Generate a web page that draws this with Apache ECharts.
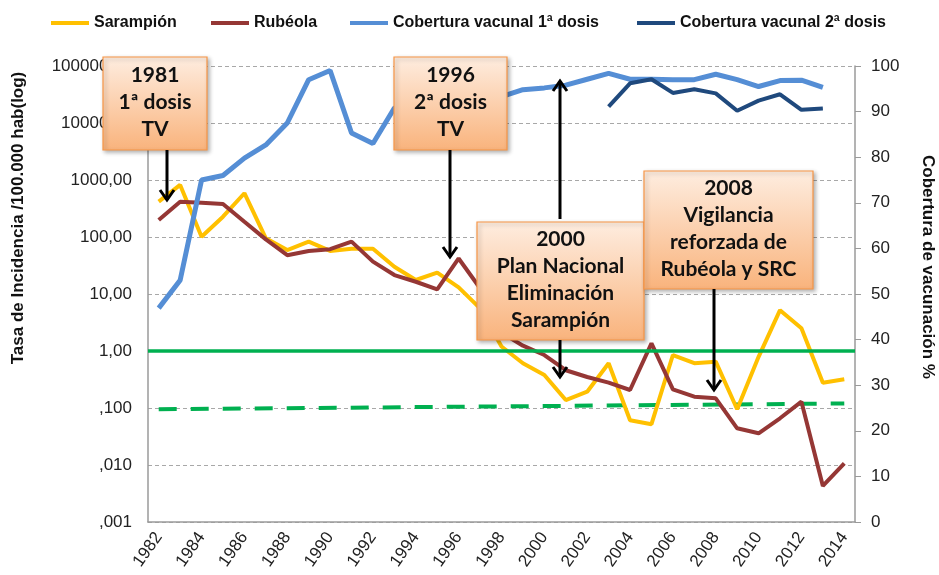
<!DOCTYPE html>
<html>
<head>
<meta charset="utf-8">
<script src="https://cdn.jsdelivr.net/npm/echarts@6/dist/echarts.min.js"></script>
<style>
html,body{margin:0;padding:0;background:#fff;}
#chart{width:939px;height:575px;}
</style>
</head>
<body>
<div id="chart"></div>
<script>
// datos
var years = ['1982','1983','1984','1985','1986','1987','1988','1989','1990','1991','1992','1993','1994','1995','1996','1997','1998','1999','2000','2001','2002','2003','2004','2005','2006','2007','2008','2009','2010','2011','2012','2013','2014'];

// tasa por 100.000 hab (eje log)
var sarampion = [417, 820, 101, 227, 586, 95, 59, 83, 57, 62, 62, 30, 17.6, 23.7, 13.1, 5.6, 1.2, 0.61, 0.38, 0.138, 0.193, 0.61, 0.061, 0.052, 0.85, 0.61, 0.65, 0.095, 0.79, 5.2, 2.5, 0.278, 0.32];
var rubeola = [199, 417, 400, 380, 185, 91, 48, 57, 61, 83, 37, 21.5, 16.4, 12.1, 42, 12.6, 2.1, 1.24, 0.85, 0.46, 0.35, 0.278, 0.207, 1.36, 0.213, 0.158, 0.148, 0.044, 0.036, 0.066, 0.129, 0.0043, 0.0107];

// cobertura % (eje derecho)
var cobertura1 = [46.9, 53, 75, 76, 79.8, 82.7, 87.5, 97, 99, 85.3, 83, 90.8, 91.5, 92, 92.5, 93, 93.3, 94.8, 95.2, 95.8, 97.1, 98.4, 97.1, 97.1, 97, 97, 98.2, 97, 95.5, 96.8, 96.9, 95.3, null];
var cobertura2 = [null, null, null, null, null, null, null, null, null, null, null, null, null, null, null, null, null, null, null, null, null, 91.1, 96.2, 97.1, 94.1, 94.9, 94.0, 90.2, 92.4, 93.8, 90.4, 90.7, null];

// lineas de referencia verdes
var objetivo = 1;
var objetivoSRC = [0.095, null, null, null, null, null, null, null, null, null, null, null, null, null, null, null, null, null, null, null, null, null, null, null, null, null, null, null, null, null, null, null, 0.12];

var leftTicks = [0.001, 100000];

var myChart = echarts.init(document.getElementById('chart'), null, {renderer: 'canvas'});

var axisFont = 'Liberation Sans';
var noteFont = 'bold 21px Lato';

function fmtLog(v){
	if (v >= 1) return Math.round(v) + ',00';
	return ',' + v.toFixed(3).split('.')[1];
}

function noteBox(x, y, w, h, lines){
	return [{
		type: 'rect', z: 100,
		shape: {x: x, y: y, width: w, height: h},
		style: {
			fill: {type: 'linear', x: 0, y: 0, x2: 0, y2: 1, colorStops: [
				{offset: 0, color: '#FEEDE0'}, {offset: 1, color: '#F9B37C'}]},
			stroke: '#F79646', lineWidth: 1.2,
			shadowBlur: 4, shadowOffsetX: 2, shadowOffsetY: 2, shadowColor: 'rgba(0,0,0,0.3)'
		}
	}, {
		type: 'text', z: 101,
		x: x + w / 2, y: y + h / 2 - 1,
		style: {text: lines.join('\n'), font: noteFont, fill: '#111', align: 'center', verticalAlign: 'middle', lineHeight: 27}
	}];
}

function arrow(x, y1, y2){
	var d = y2 > y1 ? -1 : 1;
	return [{
		type: 'line', z: 102,
		shape: {x1: x, y1: y1, x2: x, y2: y2},
		style: {stroke: '#000', lineWidth: 3}
	}, {
		type: 'polyline', z: 102,
		shape: {points: [[x - 7, y2 + d * 10], [x, y2], [x + 7, y2 + d * 10]]},
		style: {stroke: '#000', lineWidth: 3, fill: null}
	}];
}

var graphics = [].concat(
	noteBox(103, 57, 104, 93, ['1981', '1ª dosis', 'TV']),
	noteBox(394, 57, 113, 93, ['1996', '2ª dosis', 'TV']),
	noteBox(477, 222, 167, 118, ['2000', 'Plan Nacional', 'Eliminación', 'Sarampión']),
	noteBox(644, 171, 169, 118, ['2008', 'Vigilancia', 'reforzada de', 'Rubéola y SRC']),
	arrow(167, 150, 200),
	arrow(450, 150, 257),
	arrow(560, 219, 81),
	arrow(560, 340, 377),
	arrow(714, 289, 390),
	[{
		type: 'text', x: 18, y: 218, rotation: Math.PI / 2,
		style: {text: 'Tasa de Incidencia /100.000 hab(log)', font: 'bold 17px ' + axisFont, fill: '#111', align: 'center', verticalAlign: 'middle'}
	}, {
		type: 'text', x: 928, y: 267, rotation: -Math.PI / 2,
		style: {text: 'Cobertura de vacunación %', font: 'bold 17px ' + axisFont, fill: '#111', align: 'center', verticalAlign: 'middle'}
	}]
);

var legendCommon = {
	top: 10, icon: 'rect', itemWidth: 38, itemHeight: 4, selectedMode: false,
	textStyle: {fontFamily: axisFont, fontWeight: 'bold', fontSize: 16, color: '#111'}
};

var option = {
	animation: false,
	backgroundColor: '#fff',
	grid: {left: 148, right: 84, top: 66, bottom: 53, containLabel: false, outerBoundsMode: 'none'},
	legend: [
		Object.assign({left: 46, data: ['Sarampión']}, legendCommon),
		Object.assign({left: 206, data: ['Rubéola']}, legendCommon),
		Object.assign({left: 345, data: ['Cobertura vacunal 1ª dosis']}, legendCommon),
		Object.assign({left: 632, data: ['Cobertura vacunal 2ª dosis']}, legendCommon)
	],
	xAxis: {
		type: 'category', data: years, boundaryGap: true,
		axisLine: {lineStyle: {color: '#9a9a9a', width: 1.5}},
		axisTick: {show: false},
		axisLabel: {interval: 1, rotate: 55, margin: 12, fontFamily: axisFont, fontSize: 17, color: '#222'}
	},
	yAxis: [{
		type: 'log', logBase: 10, min: leftTicks[0], max: leftTicks[1], splitNumber: 8,
		axisLine: {show: true, lineStyle: {color: '#9a9a9a', width: 1.5}},
		axisTick: {show: false},
		axisLabel: {formatter: fmtLog, margin: 16, fontFamily: axisFont, fontSize: 17, color: '#222'},
		splitLine: {show: true, lineStyle: {color: '#a8a8a8', type: [4, 3], width: 1}}
	}, {
		type: 'value', min: 0, max: 100, interval: 10, position: 'right',
		axisLine: {show: true, lineStyle: {color: '#9a9a9a', width: 1.5}},
		axisTick: {show: true, length: 6, lineStyle: {color: '#9a9a9a'}},
		axisLabel: {margin: 16, fontFamily: axisFont, fontSize: 17, color: '#222'},
		splitLine: {show: false}
	}],
	graphic: graphics,
	series: [{
		name: 'Objetivo', type: 'line', yAxisIndex: 0, data: objetivoSRC, connectNulls: true,
		symbol: 'none', silent: true,
		lineStyle: {color: '#00B050', width: 4, type: [18, 14]},
		markLine: {
			symbol: 'none', silent: true, label: {show: false},
			lineStyle: {color: '#00B050', width: 3.5, type: 'solid'},
			data: [{yAxis: objetivo}]
		}
	}, {
		name: 'Sarampión', type: 'line', yAxisIndex: 0, data: sarampion,
		symbol: 'none', color: '#FFC000', lineStyle: {width: 4}
	}, {
		name: 'Rubéola', type: 'line', yAxisIndex: 0, data: rubeola,
		symbol: 'none', color: '#953735', lineStyle: {width: 4}
	}, {
		name: 'Cobertura vacunal 1ª dosis', type: 'line', yAxisIndex: 1, data: cobertura1,
		symbol: 'none', color: '#558ED5', lineStyle: {width: 5}
	}, {
		name: 'Cobertura vacunal 2ª dosis', type: 'line', yAxisIndex: 1, data: cobertura2,
		symbol: 'none', color: '#1F497D', lineStyle: {width: 4}
	}]
};

myChart.setOption(option);
</script>
</body>
</html>
